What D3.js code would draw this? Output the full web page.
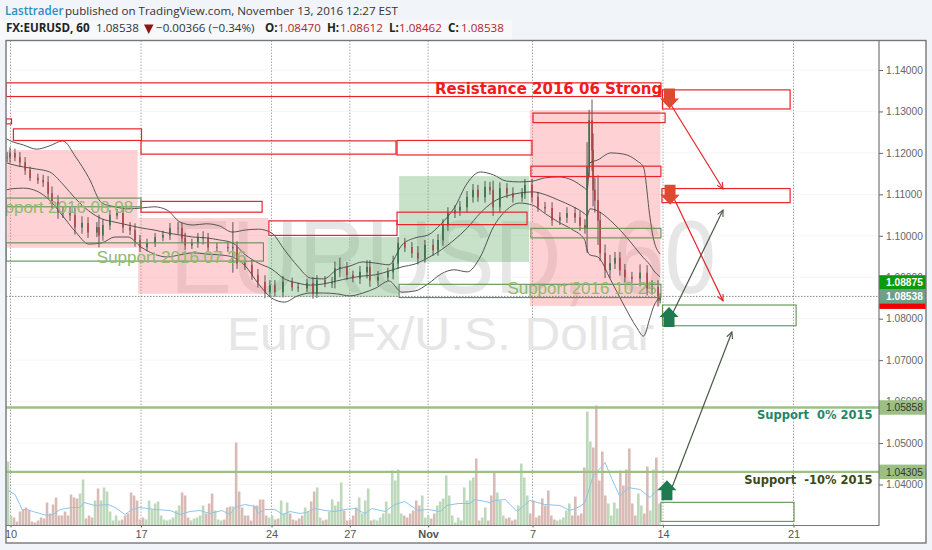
<!DOCTYPE html>
<html lang="en">
<head>
  <meta charset="UTF-8">
  <script src="https://d3js.org/d3.v7.min.js"></script>
  <title>FX:EURUSD, 60</title>
  <style>
    html, body { margin: 0; background: #f1f4f8; }
    svg { display: block; }
  </style>
</head>
<body>

<script>
  /*
    Data. Days count trading days from Oct 10
  */
  const tickDays = [0, 5, 10, 13, 16, 20, 25, 30]
  const tickNames = ["10", "17", "24", "27", "Nov", "7", "14", "21"]
  const priceTicks = [1.14, 1.13, 1.12, 1.11, 1.10, 1.09, 1.08, 1.07, 1.06, 1.05, 1.04]

  const candleDays = [
    -0.13,-0.02,0.17,0.36,0.56,0.75,1.05,1.25,1.44,1.59,
    1.82,2.01,2.28,2.47,2.74,2.97,3.31,3.39,3.54,3.81,
    4.08,4.31,4.58,4.77,4.96,5.23,5.54,5.84,6.11,6.42,
    6.57,6.69,6.95,7.18,7.38,7.57,7.91,8.33,8.52,8.68,
    8.98,9.25,9.48,9.75,9.94,10.13,10.44,10.79,11.02,11.36,
    11.59,11.74,12.05,12.32,12.43,12.62,12.89,13.12,13.39,13.66,
    13.77,14.08,14.46,14.66,14.85,15.11,15.38,15.61,15.88,16.19,
    16.38,16.57,16.76,17.03,17.22,17.49,17.72,17.91,18.18,18.37,
    18.49,18.75,19.02,19.25,19.6,19.71,19.98,20.21,20.48,20.75,
    21.05,21.32,21.63,21.82,22.01,22.09,22.17,22.28,22.32,22.39,
    22.51,22.59,22.78,22.97,23.16,23.35,23.54,23.81,24.12,24.39,
    24.58,24.81,24.89]
  const candleCloses = [
    1.1190,1.1200,1.1190,1.1178,1.1159,1.1140,1.1135,1.1130,1.1103,1.1082,
    1.1057,1.1055,1.1050,1.1021,1.1031,1.1009,1.1021,1.1002,1.1026,1.1050,
    1.1055,1.1021,1.1014,1.0990,1.0973,1.0983,1.0997,1.1002,1.1019,1.1019,
    1.0995,1.0978,1.0983,1.0995,1.0995,1.0973,1.0973,1.0971,1.0973,1.0934,
    1.0930,1.0906,1.0889,1.0865,1.0881,1.0865,1.0889,1.0877,1.0874,1.0886,
    1.0862,1.0893,1.0886,1.0889,1.0922,1.0925,1.0906,1.0898,1.0913,1.0925,
    1.0893,1.0901,1.0913,1.0934,1.0983,1.0973,1.0959,1.0947,1.0978,1.0966,
    1.0990,1.1026,1.1055,1.1062,1.1070,1.1094,1.1111,1.1094,1.1118,1.1111,
    1.1070,1.1115,1.1103,1.1094,1.1103,1.1123,1.1094,1.1070,1.1067,1.1038,
    1.1045,1.1055,1.1045,1.1026,1.1019,1.1166,1.1279,1.1207,1.1111,1.1086,
    1.1038,1.0959,1.0918,1.0934,1.0947,1.0918,1.0901,1.0898,1.0911,1.0874,
    1.0877,1.0845,1.0854]
  const candleWickPips = [
    12,14,10,12,12,8,10,12,14,16,
    16,12,14,18,16,14,12,30,14,12,
    10,14,12,16,12,10,10,10,12,14,
    12,12,10,12,16,12,10,10,60,14,
    12,12,14,16,12,12,14,10,10,10,
    14,12,10,12,16,22,12,10,14,16,
    16,14,10,18,14,12,12,16,12,14,
    14,14,14,12,14,14,14,12,14,12,
    22,14,12,14,12,14,14,12,12,14,
    12,14,14,14,14,60,25,50,40,30,
    60,20,20,20,14,14,14,12,20,18,
    16,16,8]

  const bandDays = [
    -0.15,0,0.5,1,1.5,2,2.5,3,3.5,4,4.5,5,5.5,6,6.5,7,7.5,8,8.5,9,9.5,
    10,10.5,11,11.5,12,12.5,13,13.5,14,14.5,15,15.5,16,16.5,17,17.5,18,18.5,19,19.5,
    20,20.5,21,21.5,22,22.09,22.2,22.5,23,23.5,24,24.25,24.5,24.62,24.89]
  const bandUpper = [
    1.1234,1.1229,1.1219,1.1209,1.1217,1.1229,1.1190,1.1140,1.1079,1.1070,1.1065,
    1.1067,1.1070,1.1062,1.1033,1.1026,1.1029,1.1024,1.1009,1.1014,1.1016,
    1.1007,1.0966,1.0927,1.0898,1.0896,1.0918,1.0927,1.0937,1.0934,1.0930,
    1.0978,1.0995,1.1002,1.1029,1.1067,1.1127,1.1154,1.1147,1.1132,1.1130,
    1.1132,1.1140,1.1142,1.1135,1.1115,1.1111,1.1176,1.1183,1.1200,1.1197,
    1.1181,1.1166,1.1045,1.0997,1.0956]
  const bandMiddle = [
    1.1176,1.1173,1.1166,1.1161,1.1154,1.1125,1.1089,1.1060,1.1041,1.1033,1.1026,
    1.1019,1.1014,1.1007,1.1002,1.0997,1.0995,1.0990,1.0983,1.0954,1.0934,
    1.0920,1.0896,1.0886,1.0881,1.0884,1.0891,1.0898,1.0903,1.0906,1.0915,
    1.0925,1.0932,1.0947,1.0966,1.0990,1.1019,1.1055,1.1082,1.1096,1.1103,
    1.1106,1.1099,1.1086,1.1072,1.1053,1.1048,1.1065,1.1060,1.1036,1.1004,
    1.0966,1.0947,1.0930,1.0918,1.0901]
  const bandLower = [
    1.1111,1.1113,1.1115,1.1108,1.1086,1.1048,1.1009,1.0980,1.0983,1.0997,1.0997,
    1.0973,1.0956,1.0949,1.0954,1.0959,1.0956,1.0954,1.0949,1.0927,1.0884,
    1.0850,1.0840,1.0855,1.0862,1.0862,1.0860,1.0855,1.0862,1.0874,1.0891,
    1.0864,1.0867,1.0884,1.0908,1.0918,1.0913,1.0949,1.1021,1.1062,1.1079,
    1.1074,1.1053,1.1033,1.1016,1.0990,1.0966,1.0954,1.0949,1.0893,1.0833,
    1.0778,1.0758,1.0802,1.0826,1.0852]

  const volumes = [
    64,10,8,4,14,16,18,15,4,3,
    5,8,7,23,12,21,28,10,10,14,
    10,31,28,27,32,46,7,10,8,25,
    37,25,38,34,14,5,10,5,6,10,
    12,33,30,25,6,8,6,25,16,22,
    24,10,6,5,6,8,15,20,33,30,
    8,5,7,8,10,20,12,22,32,15,
    6,5,6,18,19,19,83,34,18,10,
    10,5,20,20,26,26,10,8,10,6,
    7,25,12,23,12,6,5,7,10,18,
    14,24,34,38,8,5,6,14,26,20,
    24,43,15,5,6,10,18,28,12,25,
    37,5,6,5,8,12,24,12,55,45,
    56,12,10,8,12,15,25,20,30,8,
    10,7,12,20,24,27,50,30,10,3,
    8,5,38,25,45,48,67,5,8,18,
    5,30,54,33,25,10,7,8,5,6,
    20,62,48,30,12,25,8,10,27,20,
    35,10,6,5,6,8,15,22,10,29,
    10,12,58,114,84,78,120,45,74,30,
    22,10,23,17,55,40,56,77,22,10,
    32,20,12,59,15,56,68,22]

  const volumeAvgDays = [
    -0.1,0.17,0.36,0.44,0.63,0.86,1.13,1.40,1.63,1.9,2.36,2.66,2.82,3.24,3.74,4.0,4.39,4.66,
    4.96,5.54,6.11,6.5,6.88,7.26,7.64,8.1,8.41,8.6,8.98,9.37,9.48,9.75,10.13,10.44,10.71,11.09,
    11.32,11.67,12.05,12.43,12.82,13.2,13.58,13.85,14.35,14.73,15.11,15.61,16.0,16.46,16.72,17.15,
    17.6,17.8,18.37,18.56,18.95,19.41,19.9,20.48,21.05,21.44,21.82,22.01,22.32,22.78,23.05,23.35,
    23.66,24.12,24.5,24.89]
  const volumeAvg = [
    35,31,21,16,16,14,12,10,11,16,18,18,23,20,21,18,11,16,
    18,16,15,11,14,15,12,15,11,18,21,19,12,16,16,11,14,12,
    13,17,15,14,16,17,12,17,14,21,24,15,16,14,20,22,
    22,26,23,25,26,14,25,21,20,15,19,23,49,63,46,29,
    38,36,28,38]

  // [first day, last day, top price, bottom price]
  const pinkZones = [[-0.13,4.87,1.1207,1.0971],[4.89,9.87,1.1043,1.0860],[19.9,24.9,1.1303,1.0831]]
  const greenZones = [[9.87,14.89,1.0997,1.0852],[14.89,19.87,1.1144,1.0937]]
  const resistanceBoxes = [
    [-0.17,24.92,1.1369,1.1336],[-0.17,0.04,1.1282,1.1270],[0.11,5.02,1.1258,1.1230],
    [5.0,14.77,1.1229,1.1197],[14.81,19.98,1.1230,1.1195],[5.0,9.64,1.1083,1.1057],
    [9.9,14.81,1.1036,1.1001],[14.81,19.79,1.1057,1.1027],[20.02,25.08,1.1296,1.1273],
    [19.94,24.92,1.1168,1.1143],[24.98,29.87,1.1352,1.1306],[24.96,29.87,1.1114,1.1080]]
  const supportBoxes = [
    [-0.17,5.0,1.1091,1.1070],[-0.17,9.69,1.0983,1.0939],[19.94,24.92,1.1018,1.0995],
    [14.89,24.92,1.0883,1.0851],[24.98,30.1,1.0833,1.0783],[24.92,30.02,1.0357,1.0311]]
  const supportLevels = [1.05858, 1.04305]

  // [from day, from price, to day, to price]
  const redArrows = [[25.12,1.1335,27.3,1.1113],[25.39,1.1094,27.3,1.0843]]
  const darkArrows = [[25.15,1.0785,27.3,1.1062],[25.34,1.0392,27.64,1.0768]]
  const downMarks = [[25.25,1.1331],[25.27,1.1099]]
  const upMarks = [[25.23,1.0804],[25.15,1.0386]]

  const zoneLabels = [
    ["Support 2016 08 08", 4.70, 1.1055],
    ["Support 2016 07 26", 9.03, 1.0935],
    ["Support 2016 10 25", 24.76, 1.0860]]

  /*
    Constants
  */
  const width = 932
  const height = 550
  const frame = {left: 6, top: 40.5, right: 926, bottom: 543}
  const plot = {right: 879, bottom: 525.5}
  const sansFont = "'Liberation Sans', Arial, sans-serif"
  const boldFont = "'DejaVu Sans', Verdana, sans-serif"
  const headFont = "'Open Sans', 'Noto Sans', sans-serif"

  let isvg = d3.select("body").append("svg")
               .attr("width", width)
               .attr("height", height)

  let x = d3.scaleLinear().domain([0, 25]).range([10.5, 663])
  let y = d3.scaleLinear().domain([1.14, 1.04]).range([70, 484.5])
  let yVolume = d3.scaleLinear().domain([0, 120]).range([plot.bottom, plot.bottom - 120])

  //Header
  isvg.append("rect").attr("x", 0).attr("y", 20).attr("width", 512).attr("height", 20).attr("fill", "#f6f8fa")

  function headText(str, tx, ty, color, weight){
    isvg.append("text").attr("x", tx).attr("y", ty).text(str)
        .attr("font-family", headFont).attr("font-size", 11.6)
        .attr("fill", color).attr("font-weight", weight || "normal")
  }
  headText("Lasttrader", 5, 15, "#2c8fbf", "600")
  headText("published on TradingView.com, November 13, 2016 12:27 EST", 65, 15, "#333")
  headText("FX:EURUSD, 60", 6, 32, "#222", "bold")
  headText("1.08538", 96, 32, "#333")
  isvg.append("path").attr("d", d3.line()([[144, 24.5], [153.5, 24.5], [148.7, 34]])).attr("fill", "#8f1515")
  headText("\u22120.00366 (\u22120.34%)", 156, 32, "#333")
  const ohlcNames = ["O:", "H:", "L:", "C:"]
  const ohlcValues = ["1.08470", "1.08612", "1.08462", "1.08538"]
  const ohlcLeft = [265, 327, 389, 448]
  ohlcNames.forEach(function(n, i){
    headText(n, ohlcLeft[i], 32, "#222", "bold")
    headText(ohlcValues[i], ohlcLeft[i] + (i == 2 ? 10 : 13), 32, "#b3262e")
  })

  //Chart panel
  isvg.append("rect").attr("x", frame.left).attr("y", frame.top)
      .attr("width", frame.right - frame.left).attr("height", frame.bottom - frame.top)
      .attr("fill", "white")

  isvg.append("clipPath").attr("id", "plotClip").append("rect")
      .attr("x", frame.left).attr("y", frame.top)
      .attr("width", plot.right - frame.left).attr("height", plot.bottom - frame.top)
  let iplot = isvg.append("g").attr("clip-path", "url(#plotClip)")

  //Faint horizontal grid
  iplot.selectAll(".hgrid").data(priceTicks).enter().append("line")
       .attr("x1", frame.left).attr("x2", plot.right)
       .attr("y1", y).attr("y2", y)
       .attr("stroke", "#f6f6f6")

  //Vertical grid
  iplot.selectAll(".vgrid").data(tickDays).enter().append("line")
       .attr("x1", x).attr("x2", x)
       .attr("y1", frame.top).attr("y2", plot.bottom)
       .attr("stroke", "#a8a8a8").attr("stroke-dasharray", "1.5,1.5")

  //Watermark
  iplot.append("text").text("EURUSD, 60").attr("x", 170).attr("y", 293)
       .attr("textLength", 546).attr("lengthAdjust", "spacingAndGlyphs")
       .attr("font-family", sansFont).attr("font-size", 104).attr("fill", "#e6e6e6")
  iplot.append("text").text("Euro Fx/U.S. Dollar").attr("x", 227).attr("y", 350)
       .attr("textLength", 427).attr("lengthAdjust", "spacingAndGlyphs")
       .attr("font-family", sansFont).attr("font-size", 46).attr("fill", "#e6e6e6")

  //Shaded zones
  function drawBoxes(rows, fill, stroke, sw){
    iplot.append("g").selectAll("rect").data(rows).enter().append("rect")
         .attr("x", d => x(d[0])).attr("width", d => x(d[1]) - x(d[0]))
         .attr("y", d => y(d[2])).attr("height", d => y(d[3]) - y(d[2]))
         .attr("fill", fill).attr("stroke", stroke).attr("stroke-width", sw)
  }
  drawBoxes(pinkZones, "rgba(252,130,135,0.36)", "none", 0)
  drawBoxes(greenZones, "rgba(100,175,105,0.36)", "none", 0)

  //Volume bars
  const volumeDay = i => -0.095 + i * 0.115
  const candleBisect = d3.bisector(d => d).center
  function isUp(day){
    let i = candleBisect(candleDays, day)
    return i == 0 || candleCloses[i] >= candleCloses[i - 1]
  }
  iplot.append("g").selectAll("rect").data(volumes).enter().append("rect")
       .attr("x", (d, i) => x(volumeDay(i)) - 1.3).attr("width", 2.6)
       .attr("y", d => yVolume(d)).attr("height", d => yVolume(0) - yVolume(d))
       .attr("fill", (d, i) => isUp(volumeDay(i)) ? "#bdd8ba" : "#d9bbb6")

  let volumeLine = d3.line().x((d, i) => x(volumeAvgDays[i])).y(d => yVolume(d))
  iplot.append("path").attr("d", volumeLine(volumeAvg))
       .attr("fill", "none").attr("stroke", "#8cc5ea").attr("stroke-width", 1)

  //Bollinger bands
  let bandLine = d3.line().x((d, i) => x(bandDays[i])).y(d => y(d)).curve(d3.curveMonotoneX)
  iplot.append("g").selectAll("path").data([bandUpper, bandMiddle, bandLower]).enter().append("path")
       .attr("d", bandLine).attr("fill", "none").attr("stroke", "#555").attr("stroke-width", 1)

  //Candles
  let candles = candleCloses.map(function(c, i){
    let open = i == 0 ? c : candleCloses[i - 1]
    let wick = candleWickPips[i] / 10000
    return {day: candleDays[i], open: open, close: c,
            high: Math.max(open, c) + wick, low: Math.min(open, c) - wick}
  })
  iplot.append("g").selectAll("line").data(candles).enter().append("line")
       .attr("x1", d => x(d.day)).attr("x2", d => x(d.day))
       .attr("y1", d => y(d.high)).attr("y2", d => y(d.low))
       .attr("stroke", "#333").attr("stroke-width", 0.8)
  iplot.append("g").selectAll("rect").data(candles).enter().append("rect")
       .attr("x", d => x(d.day) - 0.7).attr("width", 1.4)
       .attr("y", d => y(Math.max(d.open, d.close)))
       .attr("height", d => Math.abs(y(d.open) - y(d.close)) + 0.5)
       .attr("fill", d => d.close >= d.open ? "#2a6b42" : "#b03a3a")

  //Support and resistance boxes
  drawBoxes(resistanceBoxes, "none", "#e8232a", 1.2)
  drawBoxes(supportBoxes, "none", "#5f9150", 1.1)

  iplot.selectAll(".level").data(supportLevels).enter().append("line")
       .attr("x1", frame.left).attr("x2", plot.right)
       .attr("y1", y).attr("y2", y)
       .attr("stroke", "#9cc084").attr("stroke-width", 2.4)

  //Last price dotted line
  iplot.append("line").attr("x1", frame.left).attr("x2", plot.right)
       .attr("y1", y(1.08538)).attr("y2", y(1.08538))
       .attr("stroke", "#888").attr("stroke-dasharray", "1.5,1.5")

  //Zone labels
  iplot.append("g").selectAll("text").data(zoneLabels).enter().append("text")
       .text(d => d[0]).attr("x", d => x(d[1])).attr("y", d => y(d[2]))
       .attr("text-anchor", "end").attr("font-family", sansFont).attr("font-size", 17)
       .attr("fill", "#8dbb6d")

  function boldLabel(str, day, price, size, color){
    iplot.append("text").text(str).attr("x", x(day)).attr("y", y(price))
         .attr("text-anchor", "end").attr("font-family", boldFont).attr("font-weight", "bold")
         .attr("font-size", size).attr("fill", color).style("white-space", "pre")
  }
  boldLabel("Resistance 2016 06 Strong", 24.97, 1.1342, 15, "#f21a1a")
  boldLabel("Support  0% 2015", 33.03, 1.0558, 11.5, "#1f8766")
  boldLabel("Support  -10% 2015", 33.03, 1.0402, 11.5, "#3b4a16")

  //Arrow lines with small open heads
  function drawArrows(rows, color){
    rows.forEach(function(a){
      let x0 = x(a[0]), y0 = y(a[1]), x1 = x(a[2]), y1 = y(a[3])
      let ang = Math.atan2(y1 - y0, x1 - x0)
      let head = d3.line()([
        [x1 - 7 * Math.cos(ang - 0.45), y1 - 7 * Math.sin(ang - 0.45)],
        [x1, y1],
        [x1 - 7 * Math.cos(ang + 0.45), y1 - 7 * Math.sin(ang + 0.45)]])
      iplot.append("line").attr("x1", x0).attr("y1", y0).attr("x2", x1).attr("y2", y1)
           .attr("stroke", color).attr("stroke-width", 1.2)
      iplot.append("path").attr("d", head).attr("fill", "none").attr("stroke", color).attr("stroke-width", 1.1)
    })
  }
  drawArrows(redArrows, "#e8232a")
  drawArrows(darkArrows, "#4a5a46")

  //Block arrow marks
  const upShape = "M0,-10L9.5,0L5.5,0L5.5,10L-5.5,10L-5.5,0L-9.5,0Z"
  iplot.append("g").selectAll("path").data(downMarks).enter().append("path")
       .attr("d", upShape).attr("fill", "#dc4a32")
       .attr("transform", d => "translate(" + x(d[0]) + "," + y(d[1]) + ") rotate(180)")
  iplot.append("g").selectAll("path").data(upMarks).enter().append("path")
       .attr("d", upShape).attr("fill", "#1f7a52")
       .attr("transform", d => "translate(" + x(d[0]) + "," + y(d[1]) + ")")

  //Axes
  let priceAxis = d3.axisRight(y).tickValues(priceTicks).tickSize(4).tickPadding(3).tickFormat(d3.format(".5f"))
  let gPrice = isvg.append("g").attr("transform", "translate(" + plot.right + ",0)").call(priceAxis)
  let timeAxis = d3.axisBottom(x).tickValues(tickDays).tickSize(2).tickPadding(3)
                   .tickFormat((d, i) => tickNames[i])
  let gTime = isvg.append("g").attr("transform", "translate(0," + plot.bottom + ")").call(timeAxis)
  gPrice.select(".domain").remove()
  gTime.select(".domain").remove()
  gPrice.selectAll("text").attr("font-family", sansFont).attr("font-size", 10.2).attr("fill", "#666")
  gPrice.selectAll("line").attr("stroke", "#666")
  gTime.selectAll("text").attr("font-family", sansFont).attr("font-size", 11).attr("fill", "#555")
  gTime.selectAll("line").attr("stroke", "#666")
  gTime.selectAll("g.tick").filter((d, i) => tickNames[i] == "Nov").select("text").attr("font-weight", "bold")

  //Price tags on the axis
  const tagValues = ["1.04305", "1.05858", "1.08875", "1.08538"]
  const tagFills = ["#9cc084", "#9cc084", "#0b9a0b", "#6f9f85"]
  const tagTexts = ["#333", "#333", "#fff", "#fff"]
  const tagH = 14.5
  isvg.append("rect").attr("x", plot.right).attr("width", frame.right - plot.right)
      .attr("y", y(1.0797)-17).attr("height", 6).attr("fill", "#f00000")
  tagValues.forEach(function(v, i){
    isvg.append("rect").attr("x", plot.right).attr("width", frame.right - plot.right)
        .attr("y", y(+v) - tagH / 2).attr("height", tagH).attr("fill", tagFills[i])
    isvg.append("text").text(v).attr("x", 886).attr("y", y(+v) + 3.8)
        .attr("font-family", sansFont).attr("font-size", 10.2).attr("font-weight", i > 1 ? "bold" : "normal")
        .attr("fill", tagTexts[i])
  })

  //Frame lines
  isvg.append("path").attr("d", d3.line()([[plot.right, frame.top], [plot.right, plot.bottom], [frame.left, plot.bottom]]))
      .attr("fill", "none").attr("stroke", "#777").attr("stroke-width", 1.2)
  isvg.append("rect").attr("x", frame.left).attr("y", frame.top)
      .attr("width", frame.right - frame.left).attr("height", frame.bottom - frame.top)
      .attr("fill", "none").attr("stroke", "#777").attr("stroke-width", 1.4)
</script>
</body>
</html>
